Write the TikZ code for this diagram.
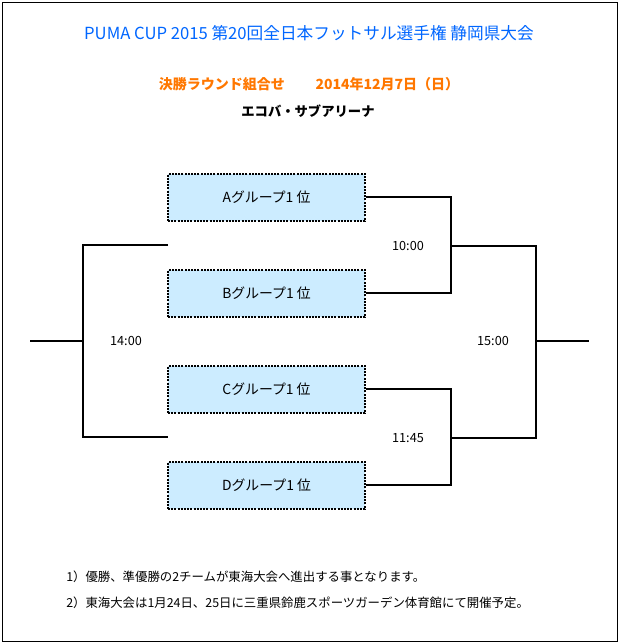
\documentclass[tikz,border=0pt]{standalone}
\usepackage{fontspec}
\setmainfont{Noto Sans CJK JP}
\begin{document}
\begin{tikzpicture}[x=0.75pt,y=-0.75pt,
  line/.style={draw=black,line width=0.85pt},
  teambox/.style={draw=black,dash pattern=on 1.5pt off 0.9pt,line width=0.8pt,fill=boxblue,minimum width=197*0.75pt,minimum height=47*0.75pt,inner sep=0pt,font=\fontsize{10.4pt}{12pt}\selectfont},
  timelbl/.style={font=\fontsize{9.5pt}{11pt}\selectfont,inner sep=0pt},
  note/.style={font=\fontsize{9.3pt}{11pt}\selectfont,inner sep=0pt,anchor=west}]
\definecolor{boxblue}{RGB}{204,236,255}
\definecolor{titleblue}{RGB}{0,102,255}
\definecolor{subor}{RGB}{255,119,0}
\useasboundingbox (0,0) rectangle (619,644);
\draw[line width=0.75pt] (2,2) rectangle (617,641);
% titles
\node[text=titleblue,font=\fontsize{12.5pt}{14pt}\selectfont,inner sep=0pt] (title) at (309,33) {PUMA CUP 2015 第20回全日本フットサル選手権 静岡県大会};
\node[text=subor,font=\fontsize{10.5pt}{12pt}\selectfont\bfseries,inner sep=0pt] (sub) at (309,84) {決勝ラウンド組合せ\hspace{2.2em}2014年12月7日（日）};
\node[font=\fontsize{10pt}{12pt}\selectfont\bfseries,inner sep=0pt] (venue) at (308,111) {エコバ・サブアリーナ};
% team boxes
\node[teambox] (A) at (266.5,197.5) {Aグループ1 位};
\node[teambox] (B) at (266.5,293.5) {Bグループ1 位};
\node[teambox] (C) at (266.5,389.5) {Cグループ1 位};
\node[teambox] (D) at (266.5,485.5) {Dグループ1 位};
% bracket coordinates
\coordinate (ab) at (451,197);
\coordinate (ab2) at (451,293);
\coordinate (abm) at (451,246);
\coordinate (cd) at (451,389);
\coordinate (cd2) at (451,485);
\coordinate (cdm) at (451,438);
\coordinate (fr1) at (536,246);
\coordinate (fr2) at (536,438);
\coordinate (frm) at (536,341);
\coordinate (fout) at (589,341);
\coordinate (lt) at (168,245);
\coordinate (lt2) at (83,245);
\coordinate (lb) at (168,437);
\coordinate (lb2) at (83,437);
\coordinate (lm) at (83,341);
\coordinate (lout) at (30,341);
% right brackets
\draw[line] (A.east |- ab) -- (ab) -- (ab2) -- (B.east |- ab2);
\draw[line] (C.east |- cd) -- (cd) -- (cd2) -- (D.east |- cd2);
\draw[line] (abm) -- (fr1) -- (fr2) -- (cdm);
\draw[line] (frm) -- (fout);
% left bracket
\draw[line] (lt) -- (lt2) -- (lb2) -- (lb);
\draw[line] (lm) -- (lout);
% times
\node[timelbl] (t1) at (408,246) {10:00};
\node[timelbl] (t2) at (408,438) {11:45};
\node[timelbl] (t3) at (126,341) {14:00};
\node[timelbl] (t4) at (493,341) {15:00};
% notes
\node[note] (n1) at (66,577) {1）優勝、準優勝の2チームが東海大会へ進出する事となります。};
\node[note] (n2) at (66,603) {2）東海大会は1月24日、25日に三重県鈴鹿スポーツガーデン体育館にて開催予定。};
\end{tikzpicture}
\end{document}
